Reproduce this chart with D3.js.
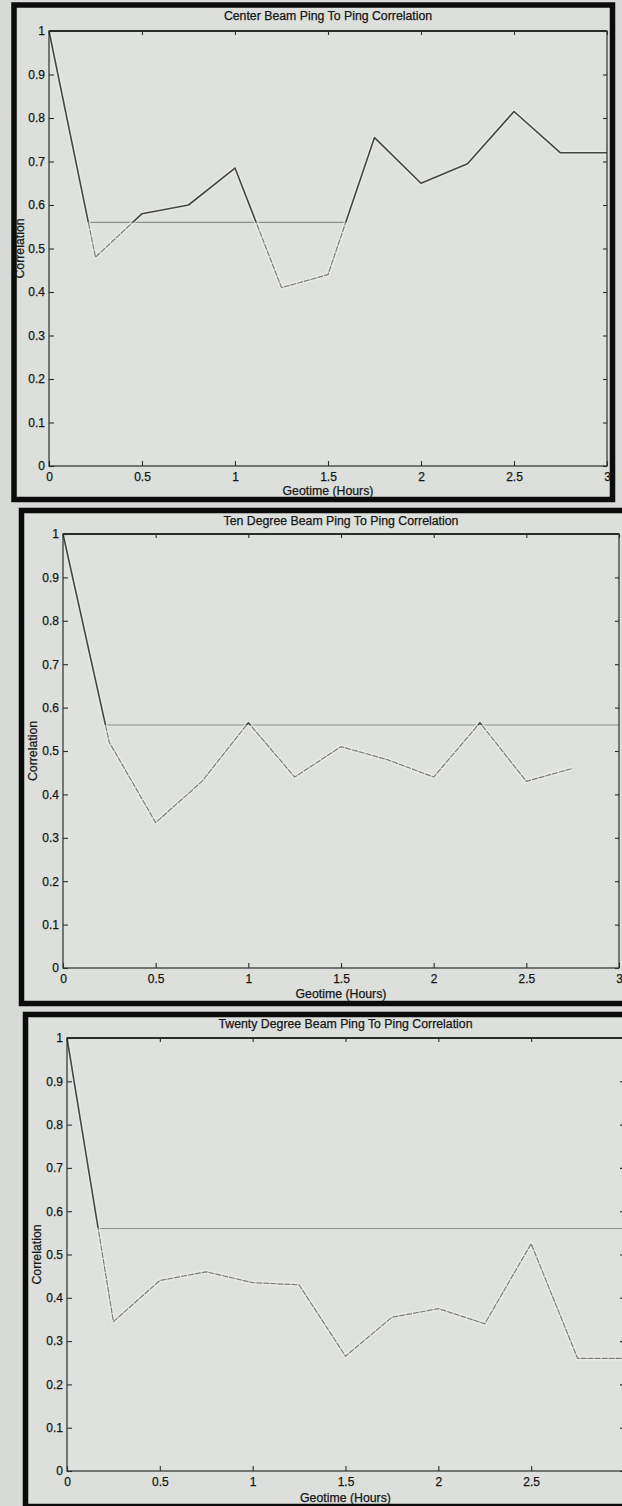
<!DOCTYPE html>
<html>
<head>
<meta charset="utf-8">
<script src="https://cdn.jsdelivr.net/npm/d3@7"></script>
<style>
  html, body { margin: 0; padding: 0; background: #d7dad6; }
  svg { display: block; }
  text { font-family: "Liberation Sans", Arial, Helvetica, sans-serif; fill: #161616; stroke: #161616; stroke-width: 0.25px; }
</style>
</head>
<body>
<svg id="chart" width="622" height="1506"></svg>
<script>
// Sample times (hours) shared by all beams
const hours = [0, 0.25, 0.5, 0.75, 1.0, 1.25, 1.5, 1.75, 2.0, 2.25, 2.5, 2.75, 3.0];

// Ping-to-ping correlation per beam
const centerBeam       = [1.0, 0.48, 0.58, 0.60, 0.685, 0.41, 0.44, 0.755, 0.65, 0.695, 0.815, 0.72, 0.72];
const tenDegreeBeam    = [1.0, 0.52, 0.335, 0.43, 0.565, 0.44, 0.51, 0.48, 0.44, 0.565, 0.43, 0.46];
const twentyDegreeBeam = [1.0, 0.345, 0.44, 0.46, 0.435, 0.43, 0.265, 0.355, 0.375, 0.34, 0.525, 0.26, 0.26];

// Decorrelation threshold and the span (hours) over which it is drawn
const threshold      = 0.56;
const thresholdStart = [0.21, 0.23, 0.17];
const thresholdEnd   = [1.6, 3.0, 3.0];

const titles = [
  "Center Beam Ping To Ping Correlation",
  "Ten Degree Beam Ping To Ping Correlation",
  "Twenty Degree Beam Ping To Ping Correlation"
];
const xTicks = [0, 0.5, 1, 1.5, 2, 2.5, 3];
const xTickLabels = ["0", "0.5", "1", "1.5", "2", "2.5", "3"];
const yTicks = [0, 0.1, 0.2, 0.3, 0.4, 0.5, 0.6, 0.7, 0.8, 0.9, 1];
const yTickLabels = ["0", "0.1", "0.2", "0.3", "0.4", "0.5", "0.6", "0.7", "0.8", "0.9", "1"];
const xLabel = "Geotime (Hours)";
const yLabel = "Correlation";

const series = [centerBeam, tenDegreeBeam, twentyDegreeBeam];

const pageWidth = 622;

// Page geometry for each of the three stacked figures
const layouts = [
  { frame: { x: 14,   y: 5,      w: 598.5, h: 494.5 }, plot: { l: 49, r: 607, t: 31,   b: 466 },  titleY: 20,   xLabelY: 495,  yLabelX: 20 },
  { frame: { x: 21.5, y: 510.5,  w: 610,   h: 493 },   plot: { l: 63, r: 619, t: 534,  b: 968 },  titleY: 525,  xLabelY: 998,  yLabelX: 33 },
  { frame: { x: 25.5, y: 1014.5, w: 610,   h: 492 },   plot: { l: 67, r: 624, t: 1038, b: 1471 }, titleY: 1028, xLabelY: 1502, yLabelX: 37 }
];

const svg = d3.select("#chart");
const defs = svg.append("defs");

layouts.forEach((L, i) => {
  const g = svg.append("g").attr("class", "figure");
  const p = L.plot;

  // figure window background + heavy black border
  g.append("rect")
    .attr("x", L.frame.x).attr("y", L.frame.y)
    .attr("width", L.frame.w).attr("height", L.frame.h)
    .attr("fill", "#dcdfdb")
    .attr("stroke", "#0b0b0b").attr("stroke-width", 5.5);

  // axes background
  g.append("rect")
    .attr("x", p.l).attr("y", p.t)
    .attr("width", p.r - p.l).attr("height", p.b - p.t)
    .attr("fill", "#dfe1de");

  const x = d3.scaleLinear().domain([0, 3]).range([p.l, p.r]);
  const y = d3.scaleLinear().domain([0, 1]).range([p.b, p.t]);

  // clip regions above / below the threshold
  const yT = y(threshold);
  defs.append("clipPath").attr("id", "above" + i)
    .append("rect").attr("x", p.l - 2).attr("y", p.t - 3).attr("width", p.r - p.l + 4).attr("height", yT - p.t + 3);
  defs.append("clipPath").attr("id", "below" + i)
    .append("rect").attr("x", p.l - 2).attr("y", yT).attr("width", p.r - p.l + 4).attr("height", p.b - yT);

  // threshold line
  g.append("line")
    .attr("x1", x(thresholdStart[i])).attr("x2", x(thresholdEnd[i]))
    .attr("y1", yT).attr("y2", yT)
    .attr("stroke", "#8d8f8c").attr("stroke-width", 1.1);

  const pts = series[i].map((v, k) => [hours[k], v]);
  const line = d3.line().x(d => x(d[0])).y(d => y(d[1]));

  // light halo around the trace
  g.append("path").datum(pts).attr("d", line)
    .attr("fill", "none").attr("stroke", "#eef0ed").attr("stroke-width", 4.5)
    .attr("stroke-opacity", 0.55).attr("stroke-linejoin", "round");

  // trace: darker above the threshold, fainter below it
  g.append("path").datum(pts).attr("d", line)
    .attr("clip-path", `url(#above${i})`)
    .attr("fill", "none").attr("stroke", "#454745").attr("stroke-width", 1.6)
    .attr("stroke-linejoin", "round");
  g.append("path").datum(pts).attr("d", line)
    .attr("clip-path", `url(#below${i})`)
    .attr("fill", "none").attr("stroke", "#7b7d7a").attr("stroke-width", 1.2)
    .attr("stroke-dasharray", "6,1")
    .attr("stroke-linejoin", "round");

  // axes box
  g.append("rect")
    .attr("x", p.l).attr("y", p.t)
    .attr("width", p.r - p.l).attr("height", p.b - p.t)
    .attr("fill", "none").attr("stroke", "#2d2f2d").attr("stroke-width", 1.2);
  g.append("line").attr("x1", p.l).attr("x2", p.r).attr("y1", p.t).attr("y2", p.t)
    .attr("stroke", "#2a2c2a").attr("stroke-width", 1.8);

  // bottom axis (inward ticks, labels; a label falling past the page edge is left out)
  const xAxis = d3.axisBottom(x).tickValues(xTicks)
    .tickFormat((d, k) => (x(d) + 3 <= pageWidth ? xTickLabels[k] : ""))
    .tickSize(-5).tickSizeOuter(0).tickPadding(6);
  const gx = g.append("g").attr("transform", `translate(0,${p.b})`).call(xAxis);
  gx.select(".domain").remove();

  // left axis
  const yAxis = d3.axisLeft(y).tickValues(yTicks)
    .tickFormat((d, k) => yTickLabels[k]).tickSize(-5).tickSizeOuter(0).tickPadding(4);
  const gy = g.append("g").attr("transform", `translate(${p.l},0)`).call(yAxis);
  gy.select(".domain").remove();

  // top and right axes: ticks only
  const gt = g.append("g").attr("transform", `translate(0,${p.t})`)
    .call(d3.axisTop(x).tickValues(xTicks).tickSize(-4).tickSizeOuter(0).tickFormat(""));
  gt.select(".domain").remove();
  const gr = g.append("g").attr("transform", `translate(${p.r},0)`)
    .call(d3.axisRight(y).tickValues(yTicks).tickSize(-4).tickSizeOuter(0).tickFormat(""));
  gr.select(".domain").remove();

  [gx, gy, gt, gr].forEach(a => {
    a.selectAll(".tick line").attr("stroke", "#2d2f2d").attr("stroke-width", 1.1);
    a.selectAll(".tick text")
      .style("font-family", '"Liberation Sans", Arial, sans-serif')
      .style("font-size", "12px").attr("fill", "#141414")
      .attr("stroke", "#141414").attr("stroke-width", 0.25);
  });

  // title
  g.append("text")
    .attr("x", (p.l + p.r) / 2).attr("y", L.titleY)
    .attr("text-anchor", "middle").style("font-size", "12.3px")
    .text(titles[i]);

  // x label
  g.append("text")
    .attr("x", (p.l + p.r) / 2).attr("y", L.xLabelY)
    .attr("text-anchor", "middle").style("font-size", "12.3px")
    .text(xLabel);

  // y label
  g.append("text")
    .attr("transform", `translate(${L.yLabelX + 4},${(p.t + p.b) / 2}) rotate(-90)`)
    .attr("text-anchor", "middle").style("font-size", "12.3px")
    .text(yLabel);
});
</script>
</body>
</html>
